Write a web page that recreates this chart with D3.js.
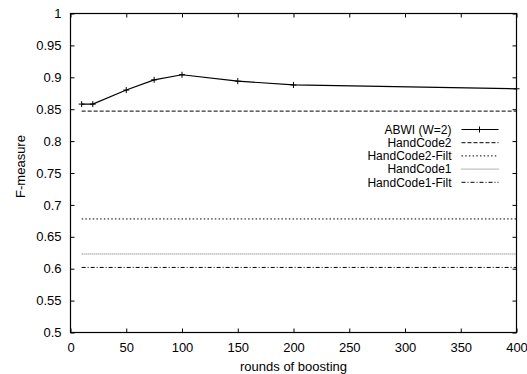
<!DOCTYPE html>
<html>
<head>
<meta charset="utf-8">
<script src="https://cdn.jsdelivr.net/npm/d3@7"></script>
<style>
  body { margin: 0; background: #fff; }
  text { font-family: "Liberation Sans", Arial, sans-serif; font-size: 13px; fill: #000; }
</style>
</head>
<body>
<svg width="527" height="374"></svg>
<script>
// data
var rounds = [10, 20, 50, 75, 100, 150, 200, 400];
var abwi = [0.858, 0.858, 0.880, 0.896, 0.904, 0.894, 0.888, 0.882];
var baselineNames = ["HandCode2", "HandCode2-Filt", "HandCode1", "HandCode1-Filt"];
var baselineValues = [0.847, 0.678, 0.623, 0.602];
var baselineRange = [10, 400];
var xTicks = [0, 50, 100, 150, 200, 250, 300, 350, 400];
var yTicks = [0.5, 0.55, 0.6, 0.65, 0.7, 0.75, 0.8, 0.85, 0.9, 0.95, 1];

var svg = d3.select('svg');
var padding = {t: 13.5, r: 10.5, b: 41.5, l: 70.5};
var chartWidth = 527 - padding.l - padding.r;
var chartHeight = 374 - padding.t - padding.b;

var xScale = d3.scaleLinear().domain([0, 400]).range([0, chartWidth]);
var yScale = d3.scaleLinear().domain([0.5, 1]).range([chartHeight, 0]);

var chart = svg.append('g')
  .attr('transform', 'translate(' + [padding.l, padding.t] + ')');

var dashes = ["4,2", "1.5,2.2", "1,1", "4,2,1,2"];

// baselines
baselineValues.forEach(function(v, i) {
  chart.append('line')
    .attr('x1', xScale(baselineRange[0]))
    .attr('x2', xScale(baselineRange[1]))
    .attr('y1', yScale(v))
    .attr('y2', yScale(v))
    .attr('stroke', i == 2 ? '#666' : '#000')
    .attr('stroke-width', 1)
    .attr('stroke-dasharray', dashes[i]);
});

// ABWI line + markers
var pts = rounds.map(function(r, i) { return [r, abwi[i]]; });
chart.append('path')
  .datum(pts)
  .attr('fill', 'none')
  .attr('stroke', '#000')
  .attr('stroke-width', 1.2)
  .attr('d', d3.line()
    .x(function(d) { return xScale(d[0]); })
    .y(function(d) { return yScale(d[1]); }));

chart.selectAll('.mark')
  .data(pts)
  .enter()
  .append('path')
  .attr('class', 'mark')
  .attr('stroke', '#000')
  .attr('stroke-width', 1)
  .attr('d', function(d) {
    var x = xScale(d[0]), y = yScale(d[1]);
    return 'M' + (x - 3) + ',' + y + 'H' + (x + 3) + 'M' + x + ',' + (y - 3) + 'V' + (y + 3);
  });

// axes, ticks inward on all four sides
chart.append('g')
  .attr('transform', 'translate(0,' + chartHeight + ')')
  .call(d3.axisBottom(xScale).tickValues(xTicks).tickSizeInner(-4).tickSizeOuter(0).tickPadding(10));
chart.append('g')
  .call(d3.axisLeft(yScale).tickValues(yTicks).tickSizeInner(-4).tickSizeOuter(0).tickPadding(9)
    .tickFormat(d3.format('')));
chart.append('g')
  .call(d3.axisTop(xScale).tickValues(xTicks).tickSizeInner(-4).tickSizeOuter(0).tickFormat(''));
chart.append('g')
  .attr('transform', 'translate(' + chartWidth + ',0)')
  .call(d3.axisRight(yScale).tickValues(yTicks).tickSizeInner(-4).tickSizeOuter(0).tickFormat(''));

chart.selectAll('.domain').remove();
chart.selectAll('.tick line').attr('stroke', '#000');
chart.selectAll('.tick text').style('font-size', '13px').style('font-family', '"Liberation Sans", Arial, sans-serif');

chart.append('rect')
  .attr('width', chartWidth)
  .attr('height', chartHeight)
  .attr('fill', 'none')
  .attr('stroke', '#000')
  .attr('stroke-width', 1.2);

// legend
var legendNames = ["ABWI (W=2)"].concat(baselineNames);
var legend = chart.append('g');
legendNames.forEach(function(name, i) {
  var y = 116 + i * 13.2;
  legend.append('text')
    .attr('x', 381)
    .attr('y', y)
    .attr('dy', '0.35em')
    .attr('text-anchor', 'end')
    .style('font-size', '12px')
    .text(name);
  if (i == 0) {
    legend.append('line')
      .attr('x1', 391).attr('x2', 428).attr('y1', y).attr('y2', y)
      .attr('stroke', '#000').attr('stroke-width', 1.2);
    legend.append('path')
      .attr('stroke', '#000')
      .attr('d', 'M406,' + y + 'h6M409,' + (y - 3) + 'v6');
  } else {
    legend.append('line')
      .attr('x1', 391).attr('x2', 428).attr('y1', y).attr('y2', y)
      .attr('stroke', i == 3 ? '#666' : '#000')
      .attr('stroke-dasharray', dashes[i - 1]);
  }
});

// axis labels
chart.append('text')
  .attr('text-anchor', 'middle')
  .attr('x', chartWidth / 2)
  .attr('y', chartHeight + 34)
  .attr('dy', '0.35em')
  .text('rounds of boosting');

chart.append('text')
  .attr('text-anchor', 'middle')
  .attr('transform', 'translate(' + [-50, 153] + ')rotate(-90)')
  .attr('dy', '0.35em')
  .text('F-measure');
</script>
</body>
</html>
